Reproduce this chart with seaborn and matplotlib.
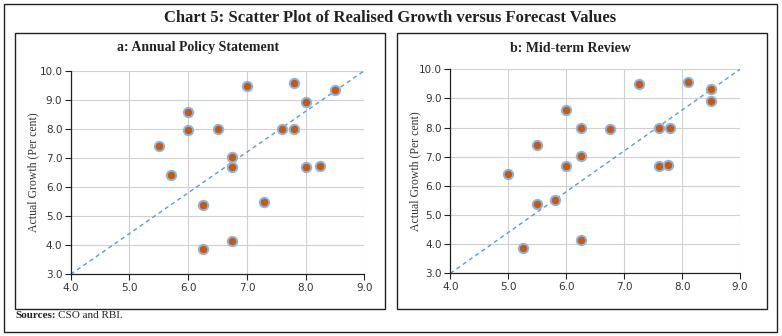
import matplotlib
matplotlib.use("Agg")
import matplotlib.pyplot as plt
from matplotlib.patches import Rectangle
import seaborn as sns
import pandas as pd

# ---- data ----
aps_forecast = [5.5, 5.7, 6.0, 6.0, 6.25, 6.25, 6.5, 6.75, 6.75, 6.75,
                7.0, 7.3, 7.6, 7.8, 7.8, 8.0, 8.0, 8.25, 8.5]
aps_actual = [7.40, 6.40, 8.59, 7.96, 5.38, 3.87, 8.00, 7.05, 6.69, 4.15,
              9.48, 5.50, 8.00, 9.57, 8.00, 8.92, 6.69, 6.72, 9.32]

mtr_forecast = [5.0, 5.25, 5.5, 5.5, 5.8, 6.0, 6.0, 6.25, 6.25, 6.25,
                6.75, 7.25, 7.6, 7.6, 7.75, 7.8, 8.1, 8.5, 8.5]
mtr_actual = [6.41, 3.88, 7.40, 5.39, 5.51, 8.60, 6.69, 8.00, 7.04, 4.14,
              7.96, 9.49, 8.00, 6.69, 6.73, 8.00, 9.57, 9.33, 8.90]

diag_x = [4.0, 9.0]
diag_y = [3.0, 10.0]

x_ticks = [4.0, 5.0, 6.0, 7.0, 8.0, 9.0]
y_ticks = [3.0, 4.0, 5.0, 6.0, 7.0, 8.0, 9.0, 10.0]

chart_title = "Chart 5: Scatter Plot of Realised Growth versus Forecast Values"
panel_titles = ["a: Annual Policy Statement", "b: Mid-term Review"]
y_label = "Actual Growth (Per cent)"

sns.set_theme(style="white")
plt.rcParams['font.family'] = ['Liberation Serif', 'DejaVu Serif']

W, H = 782, 336
fig = plt.figure(figsize=(W / 100, H / 100), dpi=100)

def fx(px):
    return px / W

def fy(py):
    return 1 - py / H

# borders
fig.patches.append(Rectangle((fx(3.5), fy(332)), fx(777) - fx(3.5), fy(3.5) - fy(332),
                             transform=fig.transFigure, fill=False, edgecolor="#222222", lw=1.0))
fig.patches.append(Rectangle((fx(15), fy(309)), fx(385) - fx(15), fy(33) - fy(309),
                             transform=fig.transFigure, fill=False, edgecolor="#222222", lw=1.0))
fig.patches.append(Rectangle((fx(397), fy(309)), fx(767) - fx(397), fy(33) - fy(309),
                             transform=fig.transFigure, fill=False, edgecolor="#222222", lw=1.0))

fig.text(fx(390), fy(18), chart_title, ha="center", va="center",
         fontsize=12, fontweight="bold", color="#222222")

axes_px = [(70.7, 70.7, 364.3, 274.3), (450.3, 69.3, 740.0, 273.3)]
title_x = [198, 570]
ylabel_x = [33, 415]
data_sets = [(aps_forecast, aps_actual), (mtr_forecast, mtr_actual)]

for i, ((x0, y0, x1, y1), (fc, ac)) in enumerate(zip(axes_px, data_sets)):
    ax = fig.add_axes([fx(x0), fy(y1), fx(x1) - fx(x0), fy(y0) - fy(y1)])
    df = pd.DataFrame({"Forecast": fc, "Actual": ac})
    ax.grid(True, color="#D0D0D0", lw=0.8, zorder=0)
    ax.set_axisbelow(True)
    sns.lineplot(x=diag_x, y=diag_y, ax=ax, color="#5B9BD5", lw=1.0,
                 linestyle=(0, (3, 2.5)), zorder=2)
    sns.scatterplot(data=df, x="Forecast", y="Actual", ax=ax, s=46,
                    color="#C55A11", edgecolor="#8DB4E2", linewidth=1.4, zorder=3)
    ax.set_xlim(4, 9)
    ax.set_ylim(3, 10)
    ax.set_xticks(x_ticks)
    ax.set_yticks(y_ticks)
    ax.set_xticklabels([f"{t:.1f}" for t in x_ticks])
    ax.set_yticklabels([f"{t:.1f}" for t in y_ticks])
    ax.tick_params(axis="both", which="both", direction="out", length=4, width=0.8,
                   color="#222222", labelsize=8.5, labelcolor="#333333", pad=2,
                   left=True, bottom=True)
    for lab in ax.get_xticklabels() + ax.get_yticklabels():
        lab.set_family(['DejaVu Sans'])
        lab.set_fontsize(7.5)
    for s in ["top", "right"]:
        ax.spines[s].set_visible(False)
    for s in ["left", "bottom"]:
        ax.spines[s].set_color("#222222")
        ax.spines[s].set_linewidth(0.9)
    ax.set_xlabel("")
    ax.set_ylabel("")
    fig.text(fx(ylabel_x[i]), fy((y0 + y1) / 2), y_label, rotation=90,
             ha="center", va="center", fontsize=8.5, color="#333333")
    fig.text(fx(title_x[i]), fy(48), panel_titles[i], ha="center", va="center",
             fontsize=10, fontweight="bold", color="#222222")

src = fig.text(fx(15), fy(316), "Sources:", ha="left", va="center", fontsize=8,
               fontweight="bold", color="#222222")
fig.canvas.draw()
bb = src.get_window_extent()
fig.text(bb.x1 / W + fx(3), fy(316), "CSO and RBI.", ha="left", va="center",
         fontsize=8, color="#222222")

fig.savefig("out.png", dpi=100)
